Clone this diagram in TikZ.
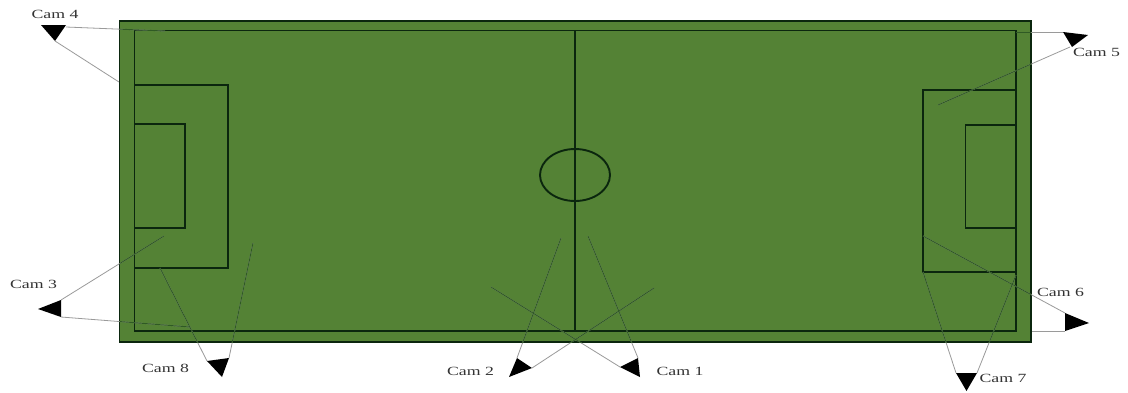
\documentclass[tikz,border=0pt]{standalone}
\usepackage{fontspec}
\setmainfont{Liberation Serif}
\definecolor{pitch}{HTML}{548235}
\definecolor{pitchline}{HTML}{0B260E}
\definecolor{raygreen}{HTML}{2F5A24}
\definecolor{raygray}{HTML}{9A9A9A}
\definecolor{labelgray}{HTML}{333333}
\newcommand{\camrays}{
  \draw (c4a) -- (c4b); \draw (c4c) -- (c4d);
  \draw (c3a) -- (c3b); \draw (c3c) -- (c3d);
  \draw (c8a) -- (c8b); \draw (c8c) -- (c8d);
  \draw (c2a) -- (c2b); \draw (c2c) -- (c2d);
  \draw (c1a) -- (c1b); \draw (c1c) -- (c1d);
  \draw (c7a) -- (c7b); \draw (c7c) -- (c7d);
  \draw (c6a) -- (c6b); \draw (c6c) -- (c6d);
  \draw (c5a) -- (c5b); \draw (c5c) -- (c5d);
}
\begin{document}
\begin{tikzpicture}[x=1pt,y=-1pt,
  pitchmark/.style={draw=pitchline,line width=1.9pt},
  camshape/.style={fill=black,draw=none},
  camlabel/.style={font=\fontsize{12.5}{14}\selectfont,text=labelgray,inner sep=0pt,xscale=1.42,transform shape}]
\useasboundingbox (0,0) rectangle (1128,392);
\fill[white] (0,0) rectangle (1128,392);
% field
\path[fill=pitch,draw=pitchline,line width=1.2pt] (119.5,21) rectangle (1031,342);
\draw[pitchmark] (134.5,30.5) rectangle (1016,331);
\draw[pitchmark] (575,30.5) -- (575,331);
\draw[pitchmark] (575,175) ellipse [x radius=35,y radius=26];
\draw[pitchmark] (134.5,85) rectangle (228,268);
\draw[pitchmark] (134.5,124) rectangle (185,228);
\draw[pitchmark] (923,90) rectangle (1016,272);
\draw[pitchmark] (965.5,125) rectangle (1016,228);
% ray ends
\coordinate (c4a) at (66,27);   \coordinate (c4b) at (165,31);
\coordinate (c4c) at (55,41);   \coordinate (c4d) at (119,82);
\coordinate (c3a) at (61,300);  \coordinate (c3b) at (164,236);
\coordinate (c3c) at (61,317);  \coordinate (c3d) at (190,327);
\coordinate (c8a) at (207,361); \coordinate (c8b) at (160,268);
\coordinate (c8c) at (229,358); \coordinate (c8d) at (253,243);
\coordinate (c2a) at (517,358); \coordinate (c2b) at (561,238);
\coordinate (c2c) at (532,368); \coordinate (c2d) at (654,288);
\coordinate (c1a) at (638,358); \coordinate (c1b) at (588,236);
\coordinate (c1c) at (620,367); \coordinate (c1d) at (491,287);
\coordinate (c7a) at (956,373); \coordinate (c7b) at (923,272);
\coordinate (c7c) at (977,373); \coordinate (c7d) at (1016,275);
\coordinate (c6a) at (1065,313);\coordinate (c6b) at (923,236);
\coordinate (c6c) at (1065,331);\coordinate (c6d) at (1032,331);
\coordinate (c5a) at (1063,32); \coordinate (c5b) at (1016,32);
\coordinate (c5c) at (1070,47); \coordinate (c5d) at (938,105);
% rays: gray on the paper, dark green over the field
\begin{scope}[draw=raygray,line width=0.8pt]
\camrays
\end{scope}
\begin{scope}
\clip (119.5,21) rectangle (1031,342);
\begin{scope}[draw=raygreen,line width=0.9pt]
\camrays
\end{scope}
\end{scope}
% cameras
\fill[camshape] (41,25) -- (66,25) -- (55,41) -- cycle;
\fill[camshape] (38,309) -- (61,300) -- (61,317) -- cycle;
\fill[camshape] (207,361) -- (229,358) -- (222,377) -- cycle;
\fill[camshape] (509,377) -- (517,358) -- (532,368) -- cycle;
\fill[camshape] (620,367) -- (638,358) -- (640,377) -- cycle;
\fill[camshape] (956,373) -- (977,373) -- (966.5,391) -- cycle;
\fill[camshape] (1065,313) -- (1089,323) -- (1065,331) -- cycle;
\fill[camshape] (1063,32) -- (1088,35) -- (1072,47) -- cycle;
% labels
\node[camlabel] (l4) at (55,14) {Cam 4};
\node[camlabel] (l3) at (33.5,284.5) {Cam 3};
\node[camlabel] (l8) at (165.5,368) {Cam 8};
\node[camlabel] (l2) at (470.5,371) {Cam 2};
\node[camlabel] (l1) at (680,371) {Cam 1};
\node[camlabel] (l7) at (1003,378) {Cam 7};
\node[camlabel] (l6) at (1060.5,292) {Cam 6};
\node[camlabel] (l5) at (1096.5,52) {Cam 5};
\end{tikzpicture}
\end{document}
